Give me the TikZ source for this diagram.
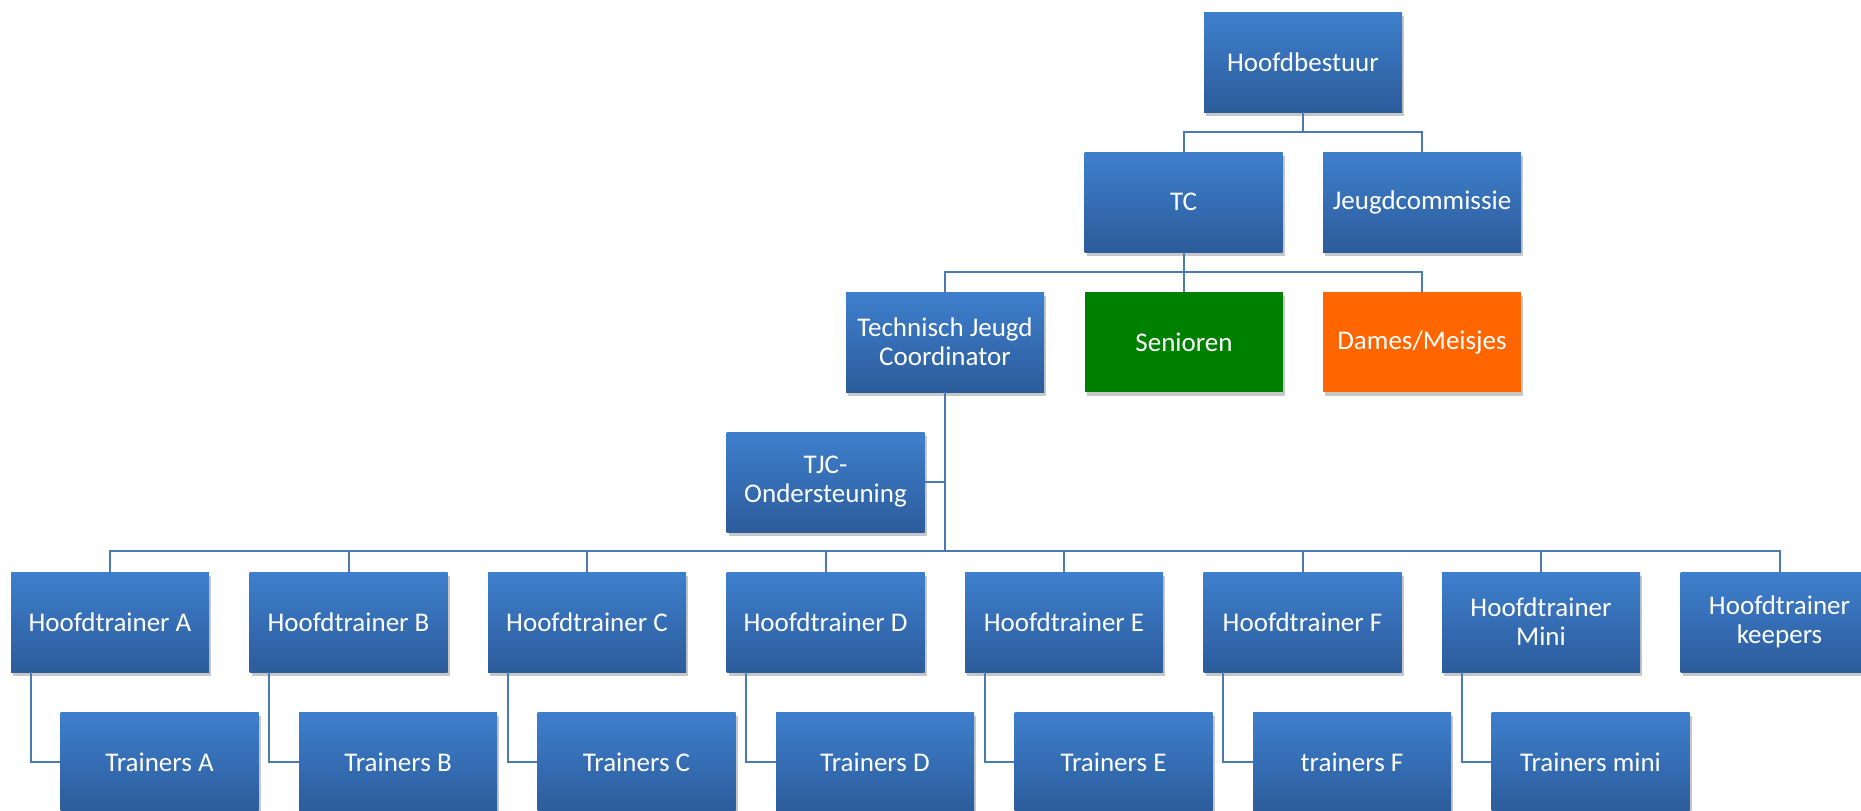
\documentclass[tikz,border=0pt]{standalone}
\usepackage{fontspec}
\setmainfont{Carlito}
\usetikzlibrary{shadows}
\definecolor{topblue}{RGB}{62,127,205}
\definecolor{botblue}{RGB}{44,92,155}
\definecolor{linecol}{RGB}{74,122,180}
\definecolor{sengreen}{RGB}{0,128,0}
\definecolor{damesorange}{RGB}{255,102,0}
\tikzset{
  box/.style={minimum width=99pt, minimum height=50pt, inner sep=2pt, text=white,
    font=\fontsize{13.5}{14.5}\selectfont, align=center,
    drop shadow={shadow xshift=1.2pt, shadow yshift=-1.8pt, opacity=0.22, fill=black}},
  bluebox/.style={box, top color=topblue, bottom color=botblue},
  conn/.style={draw=linecol, line width=1pt}
}
\begin{document}
\begin{tikzpicture}[x=0.5pt,y=-0.5pt]
\useasboundingbox (0,0) rectangle (1861,810);
\node[bluebox] (hb) at (1303,62) {Hoofdbestuur};
\node[bluebox] (tc) at (1183.5,202) {TC};
\node[bluebox] (jc) at (1422,202) {Jeugdcommissie};
\node[bluebox] (tjc) at (945,342) {Technisch Jeugd\\Coordinator};
\node[box, fill=sengreen] (sen) at (1184,342) {Senioren};
\node[box, fill=damesorange] (dames) at (1422,342) {Dames/Meisjes};
\node[bluebox] (ond) at (825.5,482) {TJC-\\Ondersteuning};
\foreach \i/\t in {0/Hoofdtrainer A,1/Hoofdtrainer B,2/Hoofdtrainer C,3/Hoofdtrainer D,4/Hoofdtrainer E,5/Hoofdtrainer F,6/Hoofdtrainer\\Mini,7/Hoofdtrainer\\keepers}{
  \node[bluebox] (ht\i) at (110+238.5*\i,622) {\t};
}
\foreach \i/\t in {0/Trainers A,1/Trainers B,2/Trainers C,3/Trainers D,4/Trainers E,5/trainers F,6/Trainers mini}{
  \node[bluebox] (tr\i) at (159.5+238.5*\i,762) {\t};
}
\draw[conn] (hb.south) -- ++(0,20) -| (tc.north);
\draw[conn] (hb.south) -- ++(0,20) -| (jc.north);
\foreach \n in {tjc,sen,dames}{
  \draw[conn] (tc.south) -- ++(0,20) -| (\n.north);
}
\foreach \i in {0,...,7}{
  \draw[conn] (tjc.south) -- ++(0,159) -| (ht\i.north);
}
\draw[conn] (ond.east) -- (ond.east -| tjc.south);
\foreach \i in {0,...,6}{
  \draw[conn] ([xshift=10pt]ht\i.south west) |- (tr\i.west);
}
\end{tikzpicture}
\end{document}
